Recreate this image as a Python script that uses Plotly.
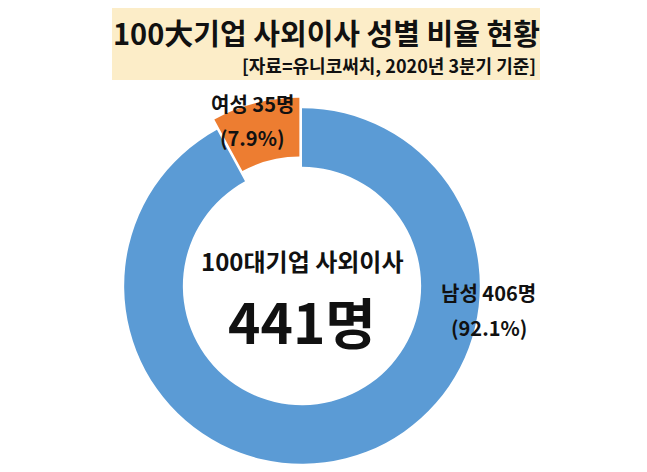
import plotly.graph_objects as go

W, H = 647, 472
OX, OY = 8, 8  # page body margin offset

labels = ["남성", "여성"]
counts = [406, 35]
shares = ["92.1%", "7.9%"]
colors = ["#5B9BD5", "#ED7D31"]
total_label = "441명"
center_caption = "100대기업 사외이사"
title_text = "100大기업 사외이사 성별 비율 현황"
source_text = "[자료=유니코써치, 2020년 3분기 기준]"

FONT = "Noto Sans CJK KR"

def px(x):
    return (x - OX) / W

def py(y):
    return 1 - (y - OY) / H

fig = go.Figure()
cx, cy, half = 302, 286, 188.5
fig.add_trace(go.Pie(
    labels=labels,
    values=counts,
    hole=0.67,
    sort=False,
    direction="clockwise",
    rotation=0,
    pull=[0, 0.06],
    marker=dict(colors=colors, line=dict(color="white", width=0)),
    textinfo="none",
    hoverinfo="label+value",
    showlegend=False,
    domain=dict(x=[px(cx - half), px(cx + half)], y=[py(cy + half), py(cy - half)]),
))

annotations = [
    dict(text=f"<b>{title_text}</b>", x=px(326), y=py(32), size=29),
    dict(text=f"<b>{source_text}</b>", x=px(538), y=py(65), size=18, xanchor="right"),
    dict(text=f"<b>{labels[1]} {counts[1]}명</b>", x=px(252), y=py(103), size=20),
    dict(text=f"<b>({shares[1]})</b>", x=px(252), y=py(137), size=20),
    dict(text=f"<b>{labels[0]} {counts[0]}명</b>", x=px(488), y=py(292), size=20),
    dict(text=f"<b>({shares[0]})</b>", x=px(489), y=py(327), size=20),
    dict(text=f"<b>{center_caption}</b>", x=px(302), y=py(260), size=24),
    dict(text=f"<b>{total_label}</b>", x=px(302), y=py(320), size=55),
]

fig.update_layout(
    width=W, height=H,
    margin=dict(l=0, r=0, t=0, b=0),
    paper_bgcolor="white",
    plot_bgcolor="white",
    shapes=[dict(type="rect", xref="paper", yref="paper",
                 x0=px(112), x1=px(540), y0=py(80), y1=py(8),
                 fillcolor="#FCEDC8", line=dict(width=0), layer="below")],
    annotations=[dict(text=a["text"], x=a["x"], y=a["y"], xref="paper", yref="paper",
                      xanchor=a.get("xanchor", "center"), yanchor="middle",
                      showarrow=False,
                      font=dict(family=FONT, size=a["size"], color="#111111"))
                 for a in annotations],
)

fig.write_html("out.html")
